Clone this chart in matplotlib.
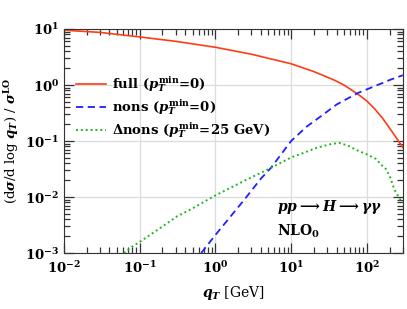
import matplotlib
matplotlib.use("Agg")
import matplotlib.pyplot as plt
from matplotlib.ticker import FixedLocator, NullFormatter
import numpy as np

# values (log-log)
qt_full = [0.01, 0.03, 0.1, 0.3, 1, 3, 10, 20, 37, 50, 76, 100, 126, 160, 200, 250, 300]
full = [9.55, 8.71, 7.24, 6.03, 4.73, 3.55, 2.40, 1.74, 1.23, 1.0, 0.69, 0.52, 0.38, 0.26, 0.17, 0.11, 0.076]

qt_nons = [0.65, 1, 2.4, 4, 5.4, 10, 16, 25, 40, 76, 126, 200, 300]
nons = [1e-3, 2.1e-3, 8.9e-3, 0.0214, 0.033, 0.1, 0.18, 0.28, 0.45, 0.72, 0.95, 1.23, 1.5]

qt_dnons = [0.062, 0.079, 0.10, 0.18, 0.31, 0.47, 1, 2.5, 5.4, 10, 13.5, 22, 32, 43, 56, 75,
            100, 132, 151, 178, 200, 219, 230, 280, 300]
dnons = [1e-3, 1.29e-3, 1.58e-3, 2.7e-3, 4.5e-3, 6.0e-3, 0.0107, 0.02, 0.033, 0.051, 0.059, 0.076,
         0.087, 0.093, 0.083, 0.068, 0.058, 0.048, 0.039, 0.032, 0.024, 0.017, 0.0138, 0.0087, 0.008]

plt.rcParams['font.family'] = 'DejaVu Serif'
plt.rcParams['font.weight'] = 'bold'
plt.rcParams['mathtext.fontset'] = 'custom'
plt.rcParams['mathtext.rm'] = 'DejaVu Serif:bold'
plt.rcParams['mathtext.it'] = 'DejaVu Serif:italic:bold'
plt.rcParams['mathtext.bf'] = 'DejaVu Serif:bold'

fig = plt.figure(figsize=(4.07, 3.09), dpi=100)
ax = fig.add_axes([0.157, 0.181, 0.833, 0.725])

ax.plot(qt_full, full, color='#ff3c14', lw=1.2, label=r'full ($p_T^{\mathrm{min}}$=0)')
ax.plot(qt_nons, nons, color='#1f1fff', lw=1.3, linestyle=(0, (4, 2.5)),
        label=r'nons ($p_T^{\mathrm{min}}$=0)')
ax.plot(qt_dnons, dnons, color='#22b522', lw=1.4, linestyle=(0, (1, 1.5)),
        label=r'$\Delta$nons ($p_T^{\mathrm{min}}$=25 GeV)')

ax.set_xscale('log')
ax.set_yscale('log')
ax.set_xlim(0.01, 300)
ax.set_ylim(1e-3, 10)

# minor ticks at 2..9 of every decade
minor = [m * 10.0 ** e for e in range(-4, 4) for m in range(2, 10)]
ax.xaxis.set_minor_locator(FixedLocator(minor))
ax.yaxis.set_minor_locator(FixedLocator(minor))
ax.xaxis.set_minor_formatter(NullFormatter())
ax.yaxis.set_minor_formatter(NullFormatter())

ax.grid(True, which='major', color='#dcdcdc', lw=0.9)
ax.tick_params(which='both', direction='in', top=True, right=True, color='#333333',
               labelsize=9.5, width=0.9)
ax.tick_params(which='major', length=7)
ax.tick_params(which='minor', length=4)
ax.tick_params(axis='x', pad=5)
for s in ax.spines.values():
    s.set_color('#333333')

ax.set_xlabel(r'$q_T$ [GeV]', fontsize=10, labelpad=6)
ax.set_ylabel(r'(d$\sigma$/d log $q_T$) / $\sigma^{\mathrm{LO}}$', fontsize=9.5, labelpad=3)

ax.legend(loc='upper left', bbox_to_anchor=(0.02, 0.82), frameon=False, fontsize=9.5,
          handlelength=2.3, handletextpad=0.4, labelspacing=0.25, borderaxespad=0)

ax.text(0.63, 0.19, r'$pp \longrightarrow H \longrightarrow \gamma\gamma$', transform=ax.transAxes,
        fontsize=10)
ax.text(0.63, 0.08, r'NLO$_0$', transform=ax.transAxes, fontsize=10)

fig.savefig('out.png', dpi=100)
